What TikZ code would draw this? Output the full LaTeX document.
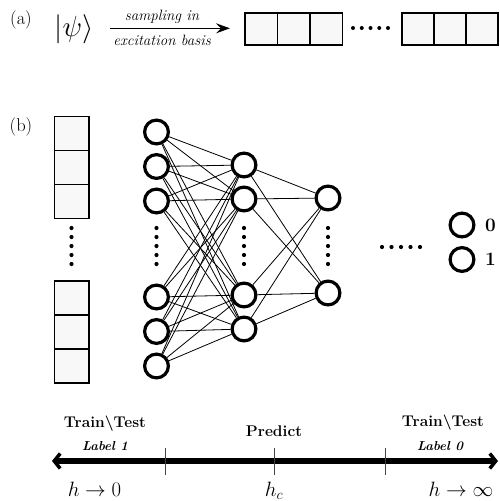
\documentclass[tikz,border=0pt]{standalone}
\usetikzlibrary{arrows.meta}
\definecolor{cellgray}{HTML}{F8F8F8}
\definecolor{tickgray}{HTML}{444444}
\begin{document}
\begin{tikzpicture}[x=1pt,y=-1pt,
  cell/.style={draw, fill=cellgray, line width=1.5pt, minimum width=32.5pt, minimum height=32pt, inner sep=0pt},
  vcell/.style={draw, fill=cellgray, line width=1.5pt, minimum width=34.5pt, minimum height=34pt, inner sep=0pt},
  neuron/.style={circle, draw, line width=3.2pt, minimum size=23.8pt, inner sep=0pt},
  dotn/.style={circle, fill, inner sep=0pt, minimum size=4.2pt},
  wire/.style={line width=0.8pt},
  lbl/.style={inner sep=0pt, font=\fontsize{18.5}{22}\selectfont},
  bigmath/.style={inner sep=0pt, font=\fontsize{21}{24}\selectfont},
  boldtxt/.style={inner sep=0pt, anchor=base, font=\fontsize{15.5}{18}\selectfont\bfseries},
  smalllbl/.style={inner sep=0pt, anchor=base, font=\fontsize{13}{15}\selectfont\bfseries\itshape},
  arrowtxt/.style={inner sep=0pt, anchor=base, font=\fontsize{15}{18}\selectfont\itshape},
  tickline/.style={draw=tickgray, line width=1pt}
]
\useasboundingbox (0,0) rectangle (499,501);

% ---------- (a) ----------
\node[lbl] (la) at (21,20) {(a)};
\node[inner sep=0pt, font=\fontsize{24.88}{30}\selectfont] (psi) at (74,29.5) {\scalebox{1.17}{$|\psi\rangle$}};
\coordinate (arrS) at (110,28.3);
\coordinate (arrE) at (230,28.3);
\draw[line width=1.5pt, -{Stealth[length=14pt,width=10pt,inset=5pt]}] (arrS) -- (arrE);
\node[arrowtxt] (samp) at (162,20.7) {sampling in};
\node[arrowtxt] (exc) at (162,45) {excitation basis};

\foreach \x [count=\n] in {261.25,293.75,326.25} {
  \node[cell] (ta\n) at (\x,29) {};
}
\foreach \x [count=\n] in {418,450.5,482} {
  \node[cell, minimum width=32pt] (tb\n) at (\x,29) {};
}
\foreach \x [count=\n] in {353,361.75,370.5,379.25,388} {
  \node[dotn, minimum size=4pt] (td\n) at (\x,28) {};
}

% ---------- (b) ----------
\node[lbl] (lb) at (21,127) {(b)};

% input column
\foreach \y [count=\n] in {133.5,167.5,201.5,298,332,366} {
  \node[vcell] (in\n) at (71.5,\y) {};
}
% vertical dots
\foreach \xx/\nm in {71.5/di,156.5/da,244/db,328/dc} {
  \foreach \y [count=\n] in {228,237,246,255,264} {
    \node[dotn] (\nm\n) at (\xx,\y) {};
  }
}

% layer 1
\foreach \y [count=\n] in {132,166.5,201,297,331.5,366} {
  \node[neuron] (a\n) at (156.5,\y) {};
}
% layer 2
\foreach \y [count=\n] in {165,199,295,329} {
  \node[neuron] (b\n) at (244,\y) {};
}
% layer 3
\foreach \y [count=\n] in {198,293} {
  \node[neuron] (c\n) at (328,\y) {};
}
% connections
\foreach \i in {1,...,6} {
  \foreach \j in {1,...,4} {
    \draw[wire] (a\i) -- (b\j);
  }
}
\foreach \i in {1,...,4} {
  \foreach \j in {1,2} {
    \draw[wire] (b\i) -- (c\j);
  }
}
% horizontal dots
\foreach \x [count=\n] in {382,391.5,401,410.5,420} {
  \node[dotn] (dh\n) at (\x,247) {};
}
% outputs
\node[neuron] (o0) at (462,225) {};
\node[neuron] (o1) at (462,259.5) {};
\node[inner sep=0pt, anchor=west, font=\fontsize{19}{22}\selectfont\bfseries] (l0) at (485,225) {0};
\node[inner sep=0pt, anchor=west, font=\fontsize{19}{22}\selectfont\bfseries] (l1) at (485,259.5) {1};

% ---------- axis ----------
\coordinate (axL) at (52,461);
\coordinate (axR) at (498,461);
\draw[line width=5.5pt, {Straight Barb[length=6pt,width=15pt,line width=3.5pt]}-{Straight Barb[length=6pt,width=15pt,line width=3.5pt]}] (axL) -- (axR);
\foreach \x [count=\n] in {165,274,385} {
  \coordinate (tt\n) at (\x,448);
  \coordinate (tb\n) at (\x,475);
  \draw[tickline] (tt\n) -- (tb\n);
}
\node[boldtxt] (tl) at (105,427) {Train\textbackslash Test};
\node[smalllbl] (ll) at (105,450) {Label 1};
\node[boldtxt] (pr) at (274,436.7) {Predict};
\node[boldtxt] (tr) at (443,426.7) {Train\textbackslash Test};
\node[smalllbl] (lr) at (440,450) {Label 0};

\node[bigmath, anchor=base] (h0) at (94.5,496.5) {$h\to 0$};
\node[bigmath, anchor=base] (hc) at (274,496.5) {$h_c$};
\node[bigmath, anchor=base] (hi) at (461,496.5) {$h\to\infty$};
\end{tikzpicture}
\end{document}
